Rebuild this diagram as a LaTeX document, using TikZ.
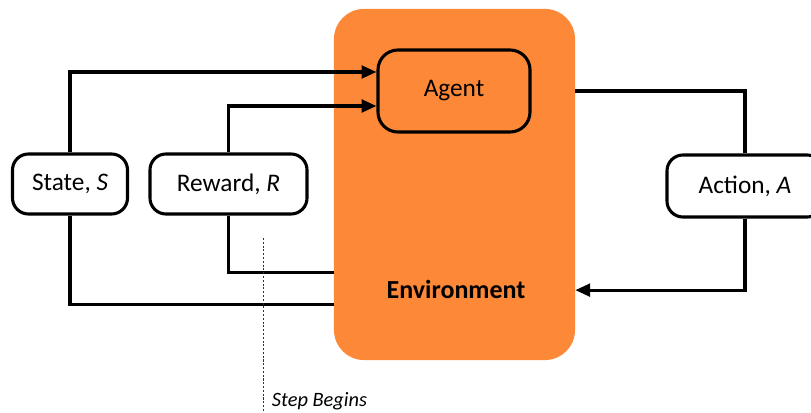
\documentclass[tikz,border=0pt]{standalone}
\usepackage{fontspec}
\setmainfont{Carlito}
\usepackage{xcolor}
\usetikzlibrary{arrows.meta, positioning}
\definecolor{envorange}{RGB}{253,136,56}
\tikzstyle{arrow} = [line width=2.2pt, -{Triangle[length=10.5pt,width=9pt]}]
\tikzstyle{wire}  = [line width=2.2pt]
\tikzset{every node/.style={align=center}}

\begin{document}
\begin{tikzpicture}[x=0.025cm, y=-0.025cm,
    box/.style={rectangle, rounded corners=0.4cm, draw, line width=2.2pt, fill=white,
                minimum height=1.5cm, inner sep=0pt, font=\fontsize{18}{21}\selectfont},
    stepline/.style={line width=0.5pt, dash pattern=on 1.5pt off 1.2pt, black!80}
]
  \useasboundingbox (0,0) rectangle (811,413);
  \clip (0,0) rectangle (811,413);

  % --- environment with the agent inside ---
  \node[rectangle, rounded corners=0.75cm, fill=envorange,
        minimum width=6.025cm, minimum height=8.775cm] (env) at (454.5,184.5) {};
  \node[box, fill=envorange, rounded corners=0.5cm,
        minimum width=3.8cm, minimum height=2.05cm] (agent) at (454,91) {Agent};
  \node[font=\fontsize{18.5}{21}\selectfont\bfseries] (envlabel) at (456,289) {Environment};

  % --- signals ---
  \node[box, minimum width=2.875cm] (state)  at (70,184)    {State, \textit{S}};
  \node[box, minimum width=3.925cm] (reward) at (228.5,184) {Reward, \textit{R}};
  \node[box, minimum width=3.9cm, minimum height=1.55cm] (action) at (745,186) {Action, \textit{A}};

  \draw[arrow] (state.north)  |- ([yshift=0.475cm]agent.west);
  \draw[arrow] (reward.north) |- ([yshift=-0.375cm]agent.west);
  \draw[wire]  (state.south)  |- ([yshift=-3.01cm]env.west);
  \draw[wire]  (reward.south) |- ([yshift=-2.19cm]env.west);
  \draw[wire]  (env.east |- agent.east) -| (action.north);
  \draw[arrow] (action.south) |- ([yshift=-2.64cm]env.east);

  % --- time marker ---
  \node[anchor=west, font=\fontsize{14.5}{16}\selectfont\itshape] (steplabel) at (267,401) {Step Begins};
  \coordinate (steptop) at (263,238);
  \draw[stepline] (steptop) -- (steptop |- steplabel.south);
\end{tikzpicture}
\end{document}
